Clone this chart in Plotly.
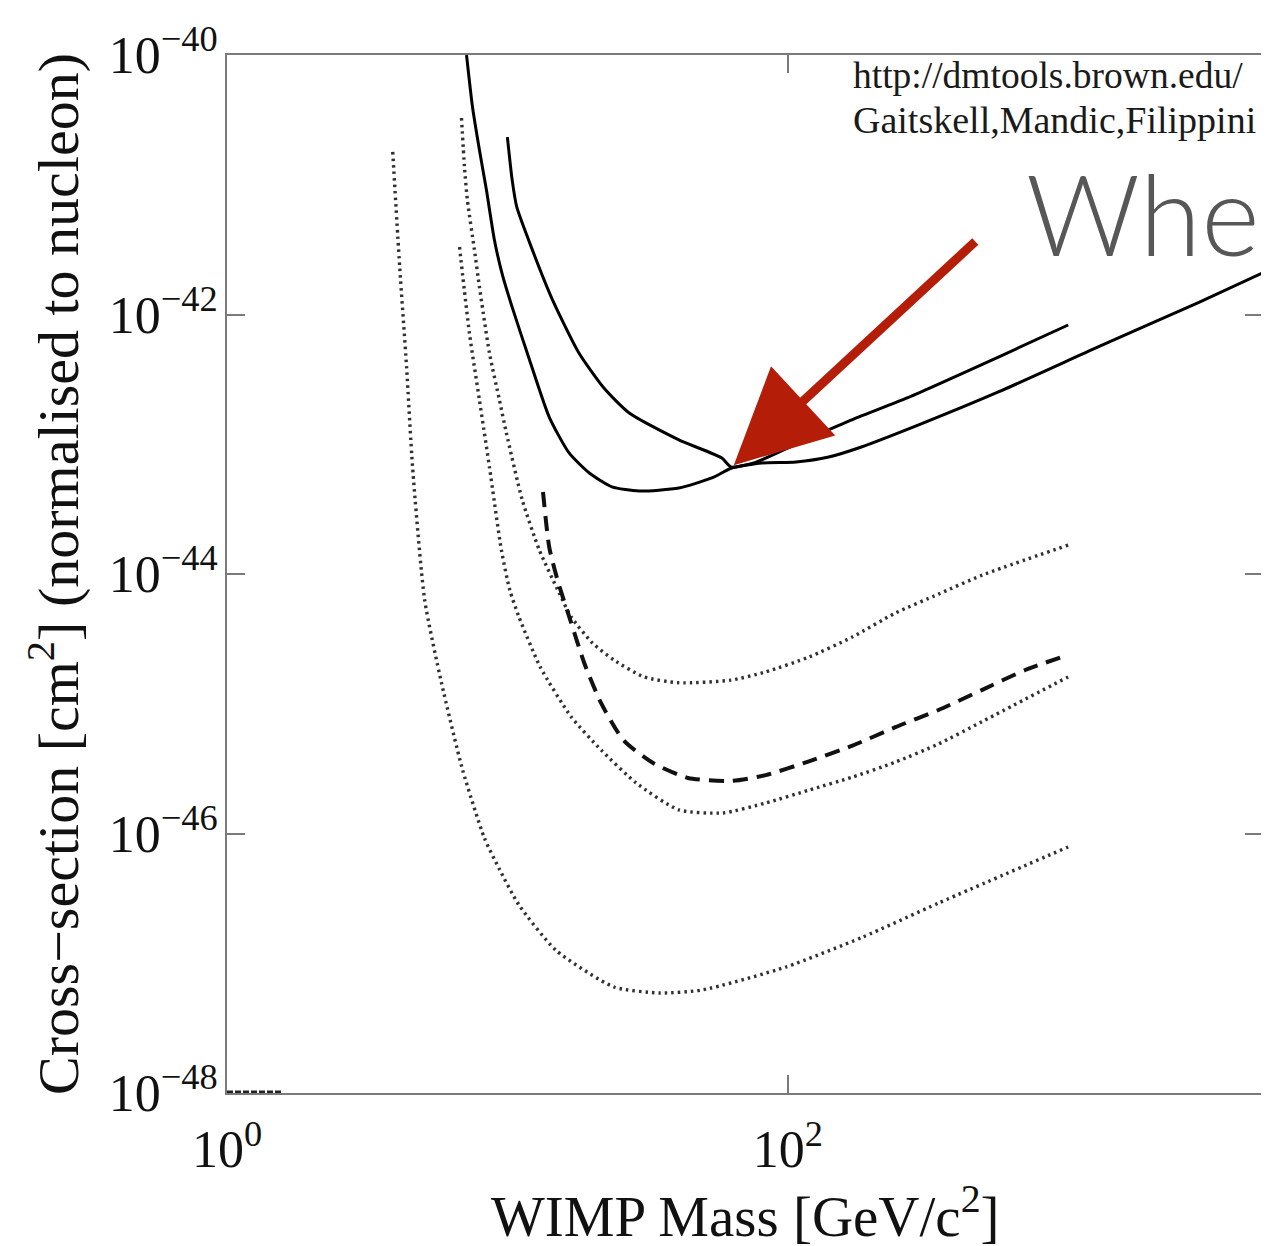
import numpy as np
import plotly.graph_objects as go

# ---------------- data ----------------
# solid curve (lower, exits right edge)
a_mass = [7.15, 7.51, 7.95, 8.42, 8.99, 9.60, 10.4, 12.0, 14.1, 16.6, 19.6, 23.6, 29.5,
          40.9, 53.6, 63.2, 80.8, 107, 140, 183, 293, 564, 1279, 2901, 4940]
a_sigma = [1.0e-40, 3.97e-41, 1.85e-41, 9.11e-42, 3.75e-42, 2.02e-42, 1.14e-42, 4.46e-43,
           1.62e-43, 8.57e-44, 6.00e-44, 4.69e-44, 4.36e-44, 4.60e-44, 5.50e-44, 6.56e-44,
           7.17e-44, 7.30e-44, 7.97e-44, 9.52e-44, 1.41e-43, 2.53e-43, 5.62e-43, 1.23e-42,
           2.09e-42]

# solid curve (upper, ends at 1 TeV)
b_mass = [10.0, 10.4, 10.8, 12.2, 14.5, 18.0, 22.1, 27.2, 40.9, 58.2, 62.7, 75.7, 109, 165,
          276, 564, 1000]
b_sigma = [2.33e-41, 1.09e-41, 6.74e-42, 3.26e-42, 1.29e-42, 5.05e-43, 2.71e-43, 1.74e-43,
           1.08e-43, 7.83e-44, 6.68e-44, 7.17e-44, 1.02e-43, 1.51e-43, 2.35e-43, 4.70e-43,
           8.30e-43]

# dashed curve
d_mass = [13.4, 14.1, 15.2, 16.9, 18.8, 21.6, 25.9, 33.1, 44.1, 62.7, 83.5, 119, 170, 242,
          345, 494, 703, 1000]
d_sigma = [4.28e-44, 1.61e-44, 8.53e-45, 4.19e-45, 2.06e-45, 1.01e-45, 5.26e-46, 3.49e-46,
           2.68e-46, 2.54e-46, 2.82e-46, 3.60e-46, 4.75e-46, 6.60e-46, 8.95e-46, 1.28e-45,
           1.82e-45, 2.38e-45]

# dotted curve (upper U)
p1_mass = [6.86, 7.03, 7.20, 7.63, 7.95, 8.63, 9.37, 9.92, 11.3, 13.0, 15.3, 16.9, 20.1,
           24.0, 30.7, 40.9, 62.7, 83.5, 119, 170, 242, 345, 494, 1000]
p1_sigma = [3.27e-41, 1.37e-41, 7.62e-42, 3.14e-42, 1.63e-42, 5.05e-43, 2.19e-43, 1.22e-43,
            3.72e-44, 1.53e-44, 7.14e-45, 4.66e-45, 2.94e-45, 2.17e-45, 1.61e-45, 1.45e-45,
            1.52e-45, 1.76e-45, 2.29e-45, 3.27e-45, 5.00e-45, 7.00e-45, 9.80e-45, 1.67e-44]

# dotted curve (middle U)
p2_mass = [6.75, 7.32, 7.95, 8.63, 9.52, 10.2, 11.0, 13.1, 16.9, 21.6, 28.8, 40.9, 58.7,
           83.5, 119, 170, 242, 345, 494, 1000]
p2_sigma = [3.31e-42, 7.20e-43, 2.19e-43, 6.68e-44, 1.53e-44, 7.53e-45, 4.66e-45, 1.92e-45,
            7.91e-46, 4.40e-46, 2.45e-46, 1.52e-46, 1.44e-46, 1.72e-46, 2.16e-46, 2.72e-46,
            3.55e-46, 4.90e-46, 7.30e-46, 1.61e-45]

# dotted curve (lowest U)
p3_mass = [3.90, 4.13, 4.37, 4.59, 5.07, 5.82, 6.92, 8.28, 9.37, 11.0, 14.9, 24.0, 35.0,
           49.4, 98.4, 185, 345, 1000]
p3_sigma = [1.79e-41, 2.32e-42, 3.94e-43, 6.68e-44, 6.31e-45, 1.45e-45, 3.10e-46, 9.23e-47,
            5.30e-47, 2.81e-47, 1.26e-47, 6.56e-48, 5.90e-48, 6.22e-48, 9.35e-48, 1.59e-47,
            2.91e-47, 7.87e-47]

# tiny segment on the bottom axis
s_mass = [1.0, 1.58]
s_sigma = [1.02e-48, 1.02e-48]

x_tickvals = [1, 100, 10000]
x_ticktext = ["10<sup>0</sup>", "10<sup>2</sup>", "10<sup>4</sup>"]
y_tickvals = [1e-48, 1e-46, 1e-44, 1e-42, 1e-40]
y_ticktext = ["10<sup>\u221248</sup>", "10<sup>\u221246</sup>", "10<sup>\u221244</sup>",
              "10<sup>\u221242</sup>", "10<sup>\u221240</sup>"]

arrow_tip_mass = 64.2
arrow_tip_sigma = 6.9e-44

# ---------------- figure ----------------
SERIF = "Liberation Serif"
fig = go.Figure()

dot_style = dict(color="#303030", width=3.4, dash="2.5px,4px")
for m, s in [(p3_mass, p3_sigma), (p2_mass, p2_sigma), (p1_mass, p1_sigma)]:
    fig.add_trace(go.Scatter(x=m, y=s, mode="lines",
                             line=dict(shape="spline", smoothing=0.6, **dot_style),
                             showlegend=False, hoverinfo="skip"))

fig.add_trace(go.Scatter(x=d_mass, y=d_sigma, mode="lines",
                         line=dict(color="#111111", width=4, dash="15px,9px", shape="spline", smoothing=0.6),
                         showlegend=False, hoverinfo="skip"))
fig.add_trace(go.Scatter(x=a_mass, y=a_sigma, mode="lines",
                         line=dict(color="#000000", width=3, shape="spline", smoothing=0.6),
                         showlegend=False, hoverinfo="skip"))
fig.add_trace(go.Scatter(x=b_mass, y=b_sigma, mode="lines",
                         line=dict(color="#000000", width=3, shape="spline", smoothing=0.6),
                         showlegend=False, hoverinfo="skip"))
fig.add_trace(go.Scatter(x=s_mass, y=s_sigma, mode="lines",
                         line=dict(color="#222222", width=3, dash="6px,2px"),
                         showlegend=False, hoverinfo="skip"))

axis_common = dict(type="log", showgrid=False, zeroline=False, showline=True,
                   linecolor="#7a7a7a", linewidth=2, mirror="ticks", ticks="inside",
                   ticklen=18, tickwidth=1.5, tickcolor="#7a7a7a",
                   tickfont=dict(family=SERIF, size=52, color="#111111"), tickmode="array")

fig.update_xaxes(range=[0, 3.695], tickvals=x_tickvals, ticktext=x_ticktext,
                 ticklabelstandoff=10, **axis_common)
fig.update_yaxes(range=[-48, -40], tickvals=y_tickvals, ticktext=y_ticktext,
                 ticklabelstandoff=-3, **axis_common)

ann = []
ann.append(dict(xref="paper", yref="paper", x=-0.167, y=0.5, textangle=-90, showarrow=False,
                text="Cross\u2212section [cm<sup>2</sup>] (normalised to nucleon)",
                font=dict(family=SERIF, size=58, color="#111111"), xanchor="center", yanchor="middle"))
ann.append(dict(xref="paper", yref="paper", x=0.5, y=-0.1150, showarrow=False,
                text="WIMP Mass [GeV/c<sup>2</sup>]",
                font=dict(family=SERIF, size=57, color="#111111"), xanchor="center", yanchor="middle"))
ann.append(dict(xref="paper", yref="paper", x=0.602, y=0.9798, showarrow=False,
                text="http://dmtools.brown.edu/",
                font=dict(family=SERIF, size=37.5, color="#1a1a1a"), xanchor="left", yanchor="middle"))
ann.append(dict(xref="paper", yref="paper", x=0.602, y=0.9374, showarrow=False,
                text="Gaitskell,Mandic,Filippini",
                font=dict(family=SERIF, size=38, color="#1a1a1a"), xanchor="left", yanchor="middle"))
ann.append(dict(xref="paper", yref="paper", x=0.7690, y=0.8480, showarrow=False,
                text="Where",
                font=dict(family="Lato Light, Lato", size=112, color="#575757", weight=300),
                xanchor="left", yanchor="middle"))
ann.append(dict(x=np.log10(arrow_tip_mass), y=np.log10(arrow_tip_sigma), xref="x", yref="y",
                text="", showarrow=True, ax=243, ay=-225, axref="pixel", ayref="pixel",
                arrowhead=2, arrowsize=2.1, arrowwidth=9, arrowcolor="#b41e08", standoff=0))

# page body has an 8px margin: figure is sized so the plot box lands where the reference has it
fig.update_layout(width=1261, height=1238, autosize=False,
                  margin=dict(l=219, r=4, t=47, b=153, pad=0),
                  paper_bgcolor="white", plot_bgcolor="white",
                  annotations=ann, showlegend=False)

fig.write_html("out.html")
